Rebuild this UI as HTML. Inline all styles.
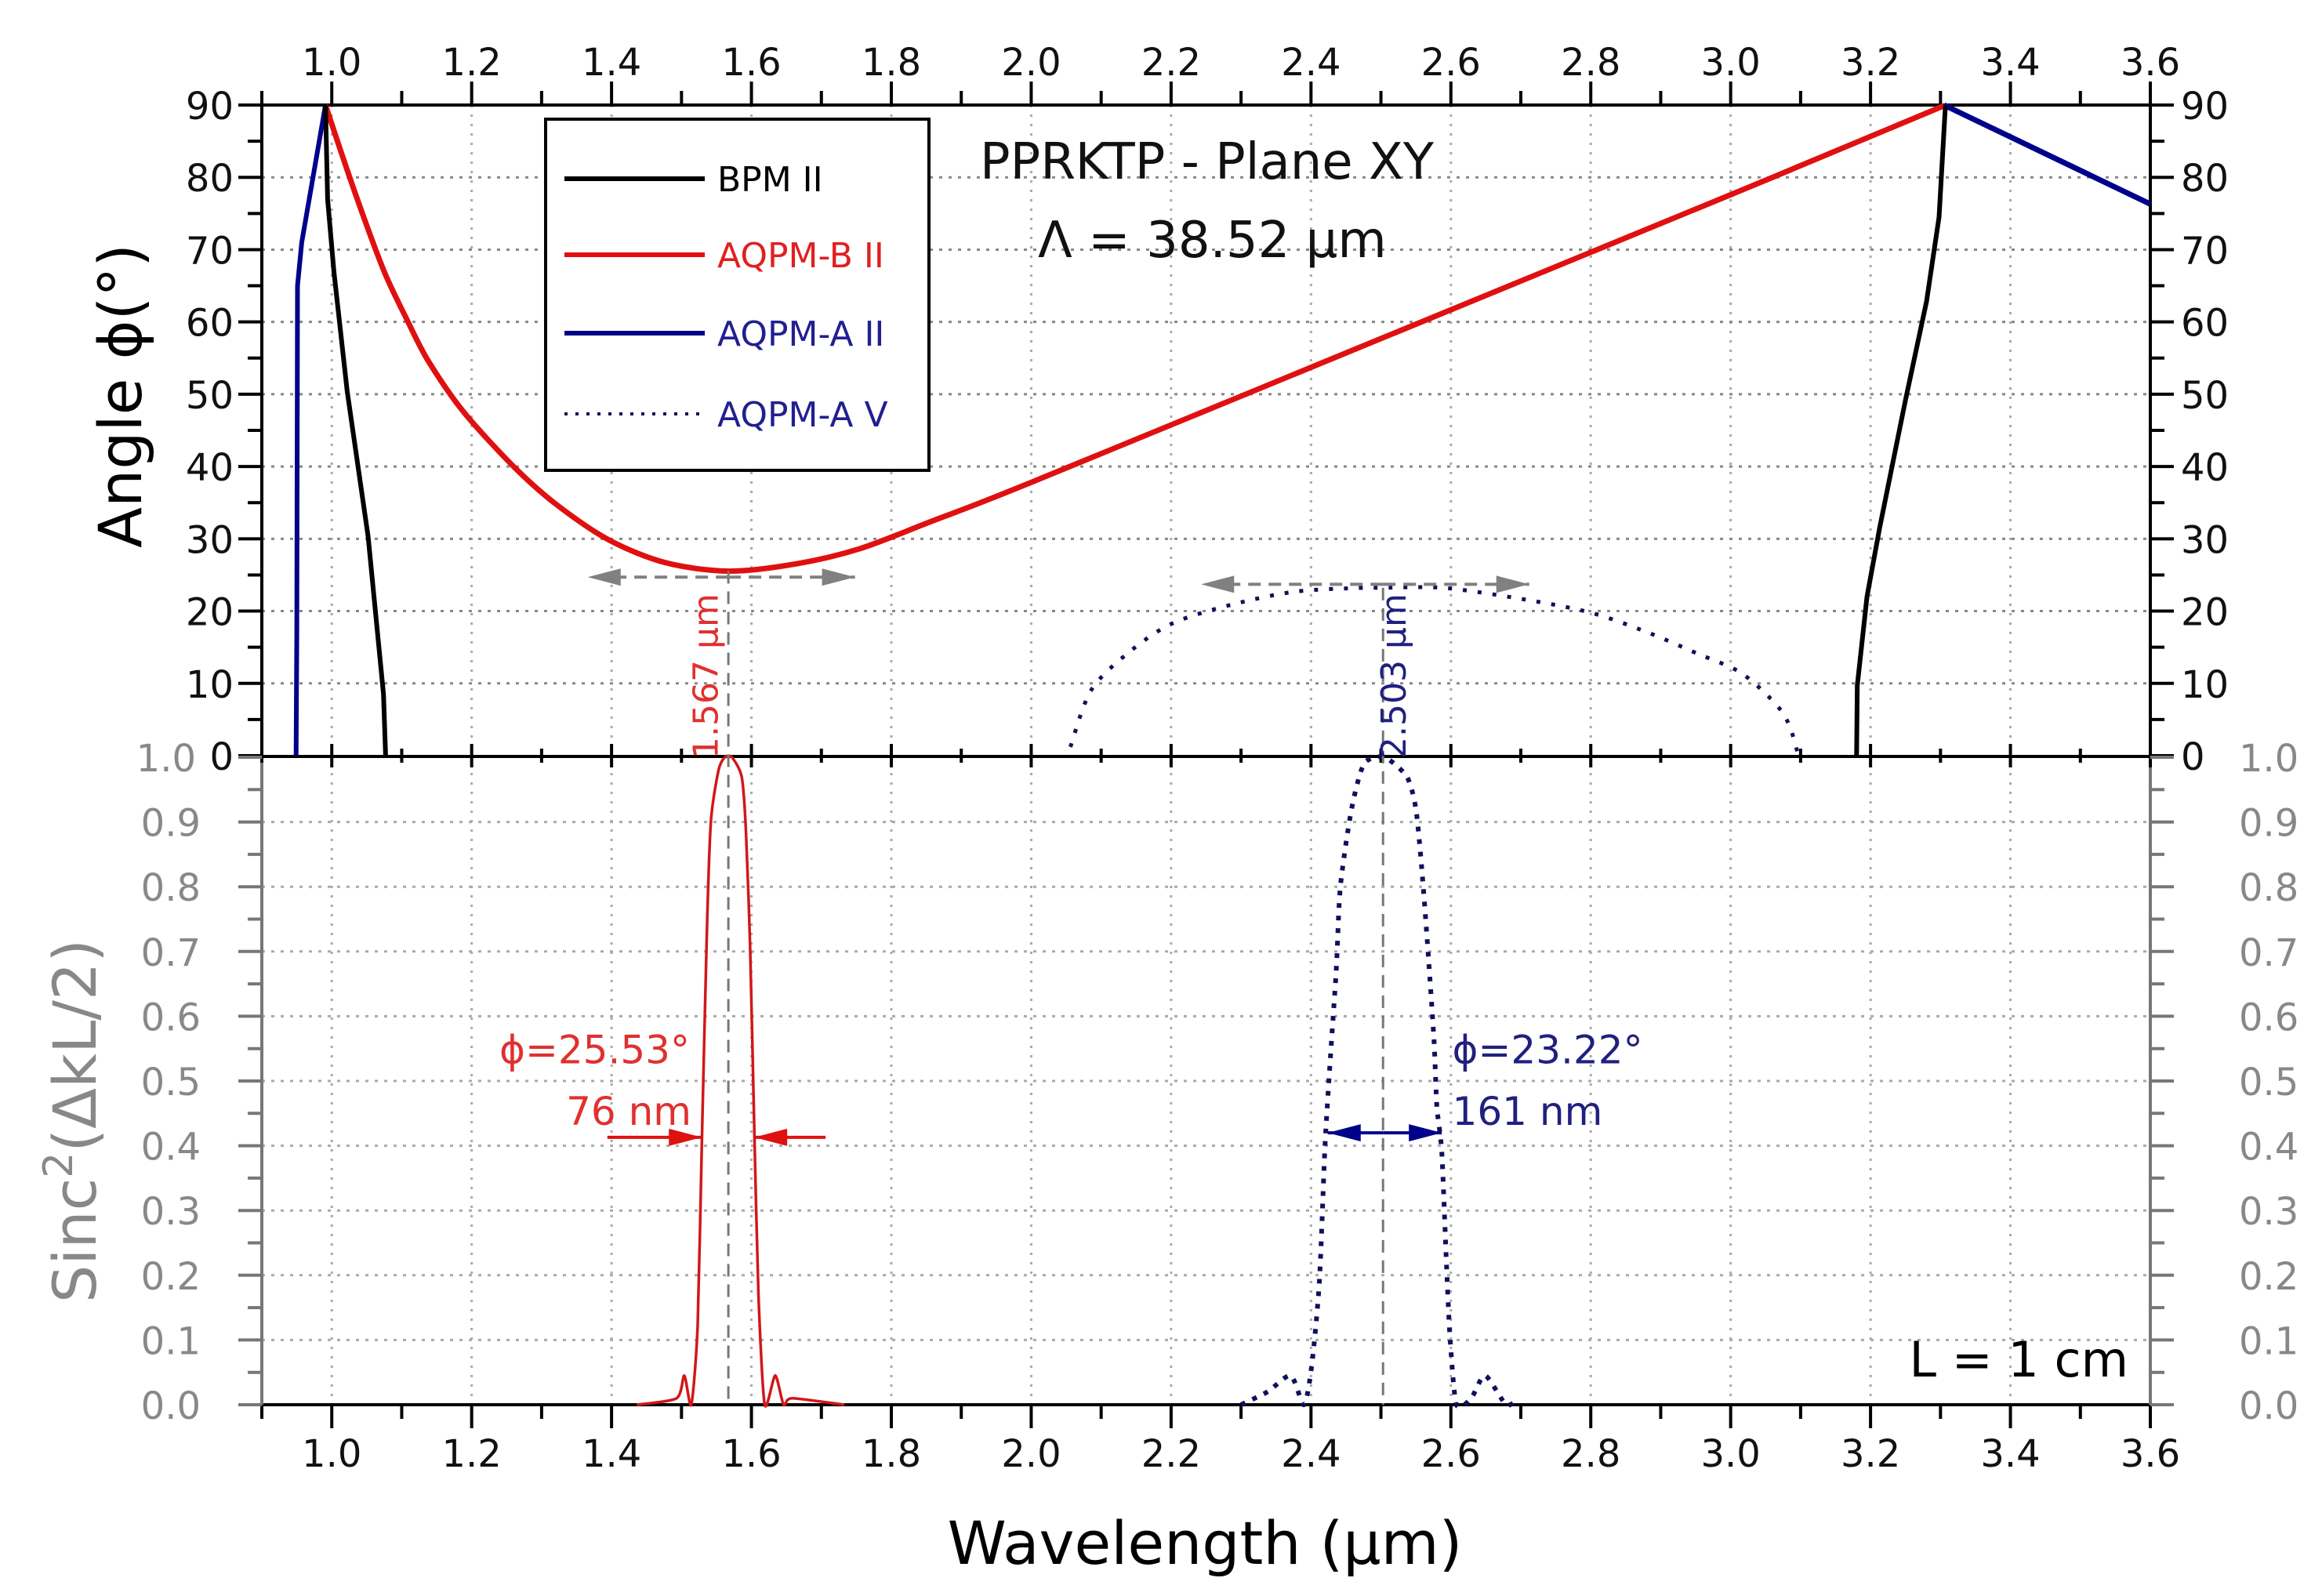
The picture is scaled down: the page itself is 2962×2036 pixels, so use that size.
<!DOCTYPE html>
<html><head><meta charset="utf-8"><style>
html,body{margin:0;padding:0;background:#fff;}
svg{display:block;font-family:"DejaVu Sans","Liberation Sans",sans-serif;}
</style></head><body>
<svg id="chart" width="2962" height="2036" viewBox="0 0 2962 2036" xmlns="http://www.w3.org/2000/svg">
<rect width="2962" height="2036" fill="#fff"/>
<g id="grid"></g>
<g id="axes"></g>
<g id="series"></g>
<g id="annot"></g>
</svg>
<script>
// ---- data ----
const xTicks = [1.0,1.2,1.4,1.6,1.8,2.0,2.2,2.4,2.6,2.8,3.0,3.2,3.4,3.6];
const xTickLabels = ["1.0","1.2","1.4","1.6","1.8","2.0","2.2","2.4","2.6","2.8","3.0","3.2","3.4","3.6"];
const angleTicks = [0,10,20,30,40,50,60,70,80,90];
const sincTicks = [0,0.1,0.2,0.3,0.4,0.5,0.6,0.7,0.8,0.9,1.0];
const sincTickLabels = ["0.0","0.1","0.2","0.3","0.4","0.5","0.6","0.7","0.8","0.9","1.0"];

const bpmLeftX = [0.991,0.994,1.003,1.022,1.052,1.074,1.077];
const bpmLeftY = [90,77,67,50.4,30.3,8.5,0];
const bpmRightX = [3.180,3.181,3.195,3.213,3.25,3.28,3.298,3.307];
const bpmRightY = [0,9.7,22,31.5,49.2,62.8,74.5,89.9];
const aqpmBX = [0.991,1.022,1.052,1.077,1.108,1.138,1.188,1.262,1.323,1.397,1.477,1.567,1.662,1.754,1.857,2.0,2.5,3.0,3.305];
const aqpmBY = [90,81,72.8,66.5,60.2,54.6,47.6,39.8,34.6,29.8,26.7,25.53,26.5,28.6,32.4,37.8,57.7,77.6,89.9];
const aqpmALeftX = [0.949,0.95,0.951,0.957,0.991];
const aqpmALeftY = [0,17,65,71,90];
const aqpmARightX = [3.305,3.6];
const aqpmARightY = [90,76.3];
const aqpmVX = [2.056,2.086,2.141,2.202,2.287,2.378,2.469,2.503,2.591,2.712,2.803,2.880,2.953,3.014,3.062,3.083,3.096];
const aqpmVY = [1.2,9.1,14.4,18.3,20.9,22.7,23.2,23.22,23.2,21.5,19.7,17.1,14.1,11.5,7.4,4.4,0.3];

const sincRedX = [1.436,1.493,1.504,1.514,1.523,1.529,1.536,1.542,1.553,1.562,1.572,1.586,1.592,1.598,1.604,1.610,1.619,1.634,1.646,1.658,1.733];
const sincRedY = [0,0.01,0.045,0,0.12,0.40,0.72,0.90,0.98,1.0,1.0,0.97,0.89,0.71,0.43,0.17,0,0.045,0,0.01,0];
const sincBlueX = [2.30,2.338,2.371,2.39,2.401,2.412,2.42,2.428,2.436,2.442,2.458,2.476,2.505,2.537,2.55,2.559,2.568,2.576,2.58,2.587,2.594,2.599,2.608,2.629,2.649,2.679,2.697];
const sincBlueY = [0,0.02,0.045,0,0.06,0.19,0.40,0.54,0.67,0.80,0.92,0.99,1.0,0.97,0.92,0.82,0.69,0.56,0.46,0.39,0.21,0.10,0,0.01,0.045,0,0.01];

const peakRed = 1.567, peakRedAngle = 25.53;
const peakBlue = 2.503, peakBlueAngle = 23.22;

// ---- layout ----
const L=334, R=2743, TT=134, TB=964, BT=966, BB=1792;
const X = v => L + (v-0.9)/(3.6-0.9)*(R-L);
const YA = v => TB - v/90*(TB-TT);
const YS = v => BB - v*(BB-BT);
const NS="http://www.w3.org/2000/svg";
function mk(parent, tag, attrs, name, text){
  const e=document.createElementNS(NS,tag);
  for(const k in attrs) e.setAttribute(k,attrs[k]);
  
  
  if(text!==undefined) e.textContent=text;
  document.getElementById(parent).appendChild(e);
  return e;
}
function pts(xs,ys,fy){return xs.map((x,i)=>X(x).toFixed(1)+","+fy(ys[i]).toFixed(1)).join(" ");}
function smooth(xs,ys,fy,t){
  const P=xs.map((x,i)=>[X(x),fy(ys[i])]);
  let d=`M${P[0][0].toFixed(1)},${P[0][1].toFixed(1)}`;
  for(let i=0;i<P.length-1;i++){
    const p0=P[Math.max(0,i-1)],p1=P[i],p2=P[i+1],p3=P[Math.min(P.length-1,i+2)];
    const c1=[p1[0]+(p2[0]-p0[0])*t,p1[1]+(p2[1]-p0[1])*t];
    const c2=[p2[0]-(p3[0]-p1[0])*t,p2[1]-(p3[1]-p1[1])*t];
    d+=` C${c1[0].toFixed(1)},${c1[1].toFixed(1)} ${c2[0].toFixed(1)},${c2[1].toFixed(1)} ${p2[0].toFixed(1)},${p2[1].toFixed(1)}`;
  }
  return d;
}

// grid
xTicks.forEach(t=>{
  mk('grid','line',{x1:X(t),x2:X(t),y1:TT,y2:BB,stroke:'#aaa','stroke-width':3,'stroke-dasharray':'3 9'},'grid-x');
});
angleTicks.slice(1,9).forEach(t=>{
  mk('grid','line',{x1:L,x2:R,y1:YA(t),y2:YA(t),stroke:'#888','stroke-width':3,'stroke-dasharray':'4 8'},'grid-angle');
});
sincTicks.slice(1,10).forEach(t=>{
  mk('grid','line',{x1:L,x2:R,y1:YS(t),y2:YS(t),stroke:'#aaa','stroke-width':3,'stroke-dasharray':'4 8'},'grid-sinc');
});

// axes
mk('axes','line',{x1:L,x2:R,y1:TT,y2:TT,stroke:'#000','stroke-width':4},'top-axis');
mk('axes','line',{x1:L,x2:R,y1:TB+1,y2:TB+1,stroke:'#000','stroke-width':4},'middle-axis');
mk('axes','line',{x1:L,x2:R,y1:BB,y2:BB,stroke:'#000','stroke-width':4},'bottom-axis');
mk('axes','line',{x1:L,x2:L,y1:TT,y2:TB,stroke:'#000','stroke-width':4},'left-angle-axis');
mk('axes','line',{x1:R,x2:R,y1:TT,y2:TB,stroke:'#000','stroke-width':4},'right-angle-axis');
mk('axes','line',{x1:L,x2:L,y1:BT,y2:BB,stroke:'#777','stroke-width':4},'left-sinc-axis');
mk('axes','line',{x1:R,x2:R,y1:BT,y2:BB,stroke:'#777','stroke-width':4},'right-sinc-axis');
for(let v=0.9; v<=3.601; v+=0.1){
  const vv=Math.round(v*10)/10, major=Math.abs(vv*5-Math.round(vv*5))<1e-6;
  const len=major?30:18;
  mk('axes','line',{x1:X(vv),x2:X(vv),y1:TT,y2:TT-len,stroke:'#000','stroke-width':4},'top-tick');
  mk('axes','line',{x1:X(vv),x2:X(vv),y1:BB,y2:BB+len,stroke:'#000','stroke-width':4},'bottom-tick');
  mk('axes','line',{x1:X(vv),x2:X(vv),y1:TB-len/2,y2:TB+len/2,stroke:'#000','stroke-width':4},'middle-tick');
}
xTicks.forEach((t,i)=>{
  mk('axes','text',{x:X(t),y:96,'font-size':48,'text-anchor':'middle',fill:'#111'},'top-tick-label',xTickLabels[i]);
  mk('axes','text',{x:X(t),y:1871,'font-size':48,'text-anchor':'middle',fill:'#111'},'bottom-tick-label',xTickLabels[i]);
});
for(let v=0; v<=90; v+=5){
  const len=(v%10===0)?30:18;
  mk('axes','line',{x1:L,x2:L-len,y1:YA(v),y2:YA(v),stroke:'#000','stroke-width':4},'left-angle-tick');
  mk('axes','line',{x1:R,x2:R+len,y1:YA(v),y2:YA(v),stroke:'#000','stroke-width':4},'right-angle-tick');
}
angleTicks.forEach(t=>{
  mk('axes','text',{x:298,y:YA(t)+18,'font-size':48,'text-anchor':'end',fill:'#111'},'left-angle-label',String(t));
  mk('axes','text',{x:2782,y:YA(t)+18,'font-size':48,'text-anchor':'start',fill:'#111'},'right-angle-label',String(t));
});
for(let i=0;i<=20;i++){
  const v=i/20, len=(i%2===0)?30:18;
  mk('axes','line',{x1:L,x2:L-len,y1:YS(v),y2:YS(v),stroke:'#777','stroke-width':4},'left-sinc-tick');
  mk('axes','line',{x1:R,x2:R+len,y1:YS(v),y2:YS(v),stroke:'#777','stroke-width':4},'right-sinc-tick');
}
sincTicks.forEach((t,i)=>{
  if(i<10) mk('axes','text',{x:256,y:YS(t)+18,'font-size':48,'text-anchor':'end',fill:'#888'},'left-sinc-label',sincTickLabels[i]);
  mk('axes','text',{x:2856,y:YS(t)+18,'font-size':48,'text-anchor':'start',fill:'#888'},'right-sinc-label',sincTickLabels[i]);
});
mk('axes','text',{x:250,y:YS(1.0)+18,'font-size':48,'text-anchor':'end',fill:'#888'},'left-sinc-label-top','1.0');
mk('axes','text',{x:180,y:505,'font-size':76,'text-anchor':'middle',fill:'#000',transform:'rotate(-90 180 505)'},'angle-axis-title','Angle \u03D5(\u00B0)');
const st=mk('axes','text',{x:122,y:1430,'font-size':76,'text-anchor':'middle',fill:'#888',transform:'rotate(-90 122 1430)'},'sinc-axis-title','');
st.innerHTML='Sinc<tspan dy="-30" font-size="52">2</tspan><tspan dy="30">(\u0394kL/2)</tspan>';
mk('axes','text',{x:1537,y:1995,'font-size':76,'text-anchor':'middle',fill:'#000'},'x-axis-title','Wavelength (\u03BCm)');

// series (top)
mk('series','path',{d:smooth(aqpmBX,aqpmBY,YA,0.15),fill:'none',stroke:'#e01010','stroke-width':7,'stroke-linejoin':'round'},'aqpm-b-ii-line');
mk('series','polyline',{points:pts(aqpmALeftX,aqpmALeftY,YA),fill:'none',stroke:'#00008b','stroke-width':6},'aqpm-a-ii-left-line');
mk('series','polyline',{points:pts(aqpmARightX,aqpmARightY,YA),fill:'none',stroke:'#00008b','stroke-width':7},'aqpm-a-ii-right-line');
mk('series','polyline',{points:pts(bpmLeftX,bpmLeftY,YA),fill:'none',stroke:'#000','stroke-width':6},'bpm-ii-left-line');
mk('series','polyline',{points:pts(bpmRightX,bpmRightY,YA),fill:'none',stroke:'#000','stroke-width':6},'bpm-ii-right-line');
mk('series','path',{d:smooth(aqpmVX,aqpmVY,YA,0.15),fill:'none',stroke:'#10105a','stroke-width':5,'stroke-dasharray':'5 14'},'aqpm-a-v-line');
// series (bottom)
mk('series','path',{d:smooth(sincRedX,sincRedY,YS,0.12),fill:'none',stroke:'#d01818','stroke-width':3.5},'sinc-red-line');
mk('series','path',{d:smooth(sincBlueX,sincBlueY,YS,0.12),fill:'none',stroke:'#10105a','stroke-width':6,'stroke-dasharray':'6 10'},'sinc-blue-line');

// annotations
mk('annot','line',{x1:X(peakRed),x2:X(peakRed),y1:YA(peakRedAngle),y2:BB,stroke:'#777','stroke-width':3,'stroke-dasharray':'16 10'},'red-peak-vline');
mk('annot','line',{x1:X(peakBlue),x2:X(peakBlue),y1:YA(peakBlueAngle),y2:BB,stroke:'#777','stroke-width':3,'stroke-dasharray':'16 10'},'blue-peak-vline');
function harrow(x1,x2,y,col,name,dash){
  mk('annot','line',{x1:x1,x2:x2,y1:y,y2:y,stroke:col,'stroke-width':4,'stroke-dasharray':dash||'none'},name);
  const d=x2>x1?1:-1;
  mk('annot','polygon',{points:`${x2},${y} ${x2-d*42},${y-11} ${x2-d*42},${y+11}`,fill:col},name+'-head');
}
const yr=YA(24.7), yb=YA(23.7);
harrow(X(1.567),X(1.366),yr,'#808080','red-range-arrow-left','16 10');
harrow(X(1.567),X(1.748),yr,'#808080','red-range-arrow-right','16 10');
harrow(X(2.503),X(2.243),yb,'#808080','blue-range-arrow-left','16 10');
harrow(X(2.503),X(2.712),yb,'#808080','blue-range-arrow-right','16 10');
mk('annot','text',{x:X(1.552),y:YA(11),'font-size':44,'text-anchor':'middle',fill:'#e03030',transform:`rotate(-90 ${X(1.552)} ${YA(11)})`},'red-peak-label','1.567 \u03BCm');
mk('annot','text',{x:X(2.535),y:YA(11),'font-size':44,'text-anchor':'middle',fill:'#202080',transform:`rotate(-90 ${X(2.535)} ${YA(11)})`},'blue-peak-label','2.503 \u03BCm');
// bottom annotations
mk('annot','text',{x:880,y:YS(0.527),'font-size':50,'text-anchor':'end',fill:'#e03030'},'red-angle-label','\u03D5=25.53\u00B0');
mk('annot','text',{x:882,y:YS(0.432),'font-size':50,'text-anchor':'end',fill:'#e03030'},'red-fwhm-label','76 nm');
harrow(X(1.394),X(1.529),YS(0.413),'#e01010','red-fwhm-arrow-left');
harrow(X(1.706),X(1.604),YS(0.413),'#e01010','red-fwhm-arrow-right');
mk('annot','text',{x:X(2.602),y:YS(0.527),'font-size':50,'text-anchor':'start',fill:'#202080'},'blue-angle-label','\u03D5=23.22\u00B0');
mk('annot','text',{x:X(2.602),y:YS(0.432),'font-size':50,'text-anchor':'start',fill:'#202080'},'blue-fwhm-label','161 nm');
harrow(X(2.503),X(2.424),YS(0.42),'#00008b','blue-fwhm-arrow-left');
harrow(X(2.503),X(2.587),YS(0.42),'#00008b','blue-fwhm-arrow-right');
mk('annot','text',{x:2715,y:1756,'font-size':62,'text-anchor':'end',fill:'#000'},'length-label','L = 1 cm');
mk('annot','text',{x:1250,y:228,'font-size':64,'text-anchor':'start',fill:'#111'},'chart-title','PPRKTP - Plane XY');
mk('annot','text',{x:1324,y:328,'font-size':64,'text-anchor':'start',fill:'#111'},'period-label','\u039B = 38.52 \u03BCm');

// legend
mk('annot','rect',{x:696,y:152,width:489,height:448,fill:'#fff',stroke:'#000','stroke-width':4},'legend-box');
const legNames=['BPM II','AQPM-B II','AQPM-A II','AQPM-A V'];
const legCols=['#000','#e01010','#00008b','#10105a'];
const legText=['#000','#e02020','#202090','#202090'];
const legY=[228,325,425,528];
legNames.forEach((n,i)=>{
  mk('annot','line',{x1:720,x2:899,y1:legY[i],y2:legY[i],stroke:legCols[i],'stroke-width':i==3?4:6,'stroke-dasharray':i==3?'4 10':'none'},'legend-line-'+i);
  mk('annot','text',{x:915,y:legY[i]+16,'font-size':44,fill:legText[i]},'legend-entry-'+i,n);
});
</script>
</body></html>
